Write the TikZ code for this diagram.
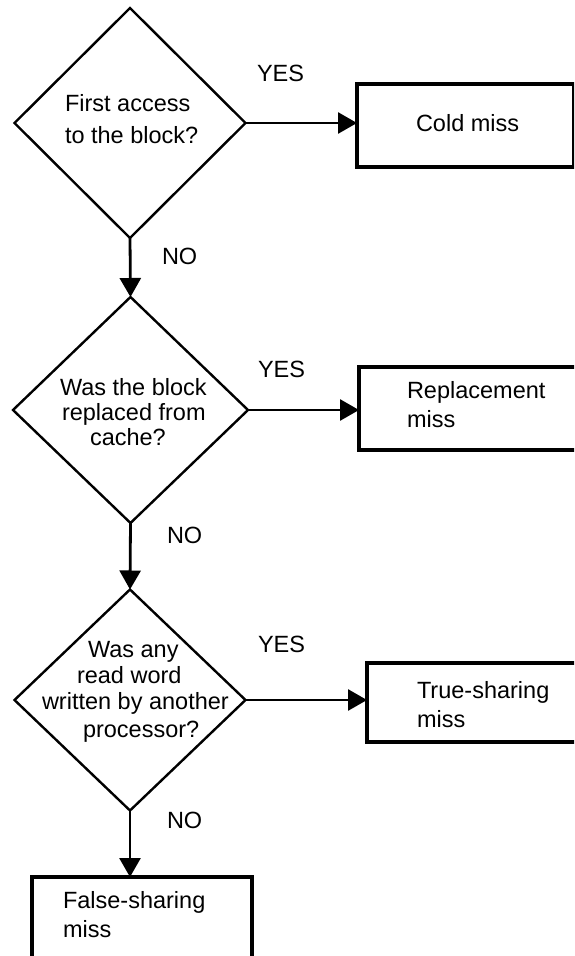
\documentclass[tikz,border=0pt]{standalone}
\usepackage{fontspec}
\setmainfont{Liberation Sans}
\usetikzlibrary{shapes.geometric,arrows.meta}
\tikzset{
  dia/.style={draw, shape=diamond, line width=2.4pt, inner sep=0pt, outer sep=0pt},
  outbox/.style={draw, rectangle, line width=3.4pt, inner sep=0pt, outer sep=0pt},
  txt/.style={anchor=base west, inner sep=0pt, outer sep=0pt, font=\fontsize{23.5}{26}\selectfont},
  conn/.style={line width=2.8pt, -{Triangle[length=19pt,width=21pt]}}
}
\begin{document}
\begin{tikzpicture}[x=1pt,y=-1pt]
\useasboundingbox (0,0) rectangle (574,956);
\clip (0,0) rectangle (574,956);
% decisions
\node[dia, minimum width=231pt, minimum height=230pt] (d1) at (130,123) {};
\node[dia, minimum width=235pt, minimum height=226pt] (d2) at (130.5,410) {};
\node[dia, minimum width=231pt, minimum height=221pt] (d3) at (130,700) {};
% outcome boxes
\node[outbox, minimum width=217pt, minimum height=83pt] (b1) at (465.5,125.5) {};
\node[outbox, minimum width=241pt, minimum height=83pt] (b2) at (479.5,408.5) {};
\node[outbox, minimum width=233pt, minimum height=79pt] (b3) at (483.5,702.5) {};
\node[outbox, minimum width=220pt, minimum height=113pt] (b4) at (142,933.5) {};
% decision texts
\node[txt] (d1a) at (65,111) {First access};
\node[txt] (d1b) at (65,143) {to the block?};
\node[txt] (d2a) at (60,395) {Was the block};
\node[txt] (d2b) at (62,420) {replaced from};
\node[txt] (d2c) at (90,445) {cache?};
\node[txt] (d3a) at (88,657) {Was any};
\node[txt] (d3b) at (77,683) {read word};
\node[txt] (d3c) at (42,709) {written by another};
\node[txt] (d3d) at (83,737) {processor?};
% box texts
\node[txt] (b1a) at (416,131) {Cold miss};
\node[txt] (b2a) at (407,398) {Replacement};
\node[txt] (b2b) at (407,427) {miss};
\node[txt] (b3a) at (417,698) {True-sharing};
\node[txt] (b3b) at (417,727) {miss};
\node[txt] (b4a) at (63,908) {False-sharing};
\node[txt] (b4b) at (63,937) {miss};
% branch labels
\node[txt] (y1) at (257,81) {YES};
\node[txt] (y2) at (258,377) {YES};
\node[txt] (y3) at (258,652) {YES};
\node[txt] (n1) at (162,264) {NO};
\node[txt] (n2) at (167,543) {NO};
\node[txt] (n3) at (167,828) {NO};
% connectors
\draw[conn] (d1.east) -- (d1.east -| b1.west);
\draw[conn] (d2.east) -- (d2.east -| b2.west);
\draw[conn] (d3.east) -- (d3.east -| b3.west);
\draw[conn] (d1.south) -- (d2.north);
\draw[conn] (d2.south) -- (d3.north);
\draw[conn] (d3.south) -- (d3.south |- b4.north);
\end{tikzpicture}
\end{document}
